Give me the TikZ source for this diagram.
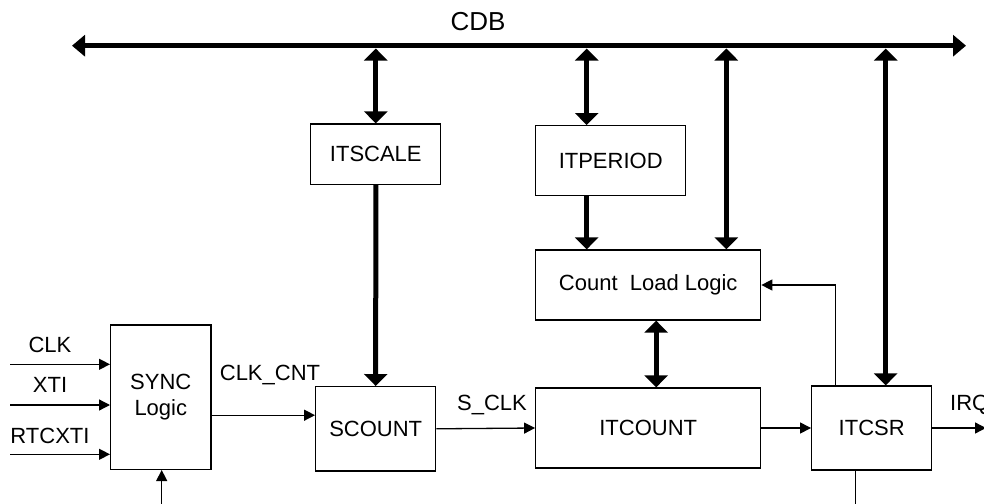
\documentclass[tikz,border=0pt]{standalone}
\usepackage{fontspec}
\setmainfont{Liberation Sans}
\usetikzlibrary{arrows.meta,calc}
\begin{document}
\begin{tikzpicture}[x=1pt,y=-1pt,
  every node/.style={font=\fontsize{22}{26}\selectfont, inner sep=0pt},
  blk/.style={draw, line width=1.3pt, rectangle, align=center},
  thin/.style={line width=1.3pt, -{Triangle[length=11pt,width=11pt]}},
  thinline/.style={line width=1.3pt},
  bus/.style={line width=5.5pt, {Triangle[length=13pt,width=21pt]}-{Triangle[length=13pt,width=21pt]}},
  fat/.style={line width=5pt, -{Triangle[length=12pt,width=23pt]}},
  fatboth/.style={line width=5pt, {Triangle[length=12pt,width=23pt]}-{Triangle[length=12pt,width=23pt]}}
]
\useasboundingbox (0,0) rectangle (984,503);

% blocks
\node[blk, minimum width=130pt, minimum height=60.5pt] (itscale) at (375.8,154.3) {ITSCALE};
\node[blk, minimum width=150pt, minimum height=70pt] (itperiod) at (610.7,160.7) {ITPERIOD};
\node[blk, minimum width=225pt, minimum height=70pt] (cll) at (648.2,285) {Count\ \ Load Logic};
\node[blk, minimum width=225pt, minimum height=80pt] (itcount) at (648.2,428) {ITCOUNT};
\node[blk, minimum width=120pt, minimum height=84.3pt] (scount) at (375.7,428.8) {SCOUNT};
\node[blk, minimum width=120pt, minimum height=84pt] (itcsr) at (871.7,428) {ITCSR};
\node[blk, minimum width=100.3pt, minimum height=144.3pt] (sync) at (160.8,397.2) {SYNC\\Logic};

% labels
\node[font=\fontsize{26}{30}\selectfont] (cdb) at (478,22) {CDB};
\node (lclk) at (50,345) {CLK};
\node (lxti) at (50,385) {XTI};
\node (lrtc) at (50,436) {RTCXTI};
\node (lclkcnt) at (270,375) {CLK\_CNT};
\node (lsclk) at (492,405) {S\_CLK};
\node[anchor=west] (lirq) at (950,405) {IRQ};

% bus
\coordinate (busL) at (72,45.7);
\coordinate (busR) at (966,45.7);
\coordinate (busy) at (0,48.5);
\draw[bus] (busL) -- (busR);

% bus connections
\draw[fatboth] (itscale.north) -- (itscale.north |- busy);
\draw[fatboth] ([xshift=-24pt]itperiod.north) -- ([xshift=-24pt]itperiod.north |- busy);
\draw[fatboth] ([xshift=-35pt]cll.north east) -- ([xshift=-35pt]cll.north east |- busy);
\draw[fatboth] ([xshift=14pt]itcsr.north) -- ([xshift=14pt]itcsr.north |- busy);

% fat data paths
\draw[fat] (itscale.south) -- (scount.north);
\draw[fat] ([xshift=-24pt]itperiod.south) -- ([xshift=-24pt]itperiod.south |- cll.north);
\draw[fatboth] ([xshift=8pt]cll.south) -- ([xshift=8pt]itcount.north);

% thin signals
\coordinate (inclk) at (10,364.3);
\coordinate (inxti) at (10,405);
\coordinate (inrtc) at (10,454.3);
\draw[thin] (inclk) -- (inclk -| sync.west);
\draw[thin] (inxti) -- (inxti -| sync.west);
\draw[thin] (inrtc) -- (inrtc -| sync.west);
\draw[thin] ([yshift=-18pt]sync.east) -- ([yshift=-18pt]sync.east -| scount.west);
\coordinate (syncin) at (161.7,506);
\draw[thin] (syncin) -- (syncin |- sync.south);
\draw[thin] (scount.east) -- (itcount.west);
\draw[thin] (itcount.east) -- (itcsr.west);
\coordinate (irq) at (986,428);
\draw[thin] (itcsr.east) -- (irq);
\draw[thin] ([xshift=-36pt]itcsr.north) |- (cll.east);
\coordinate (csrout) at (855.7,506);
\draw[thinline] (csrout |- itcsr.south) -- (csrout);
\end{tikzpicture}
\end{document}
